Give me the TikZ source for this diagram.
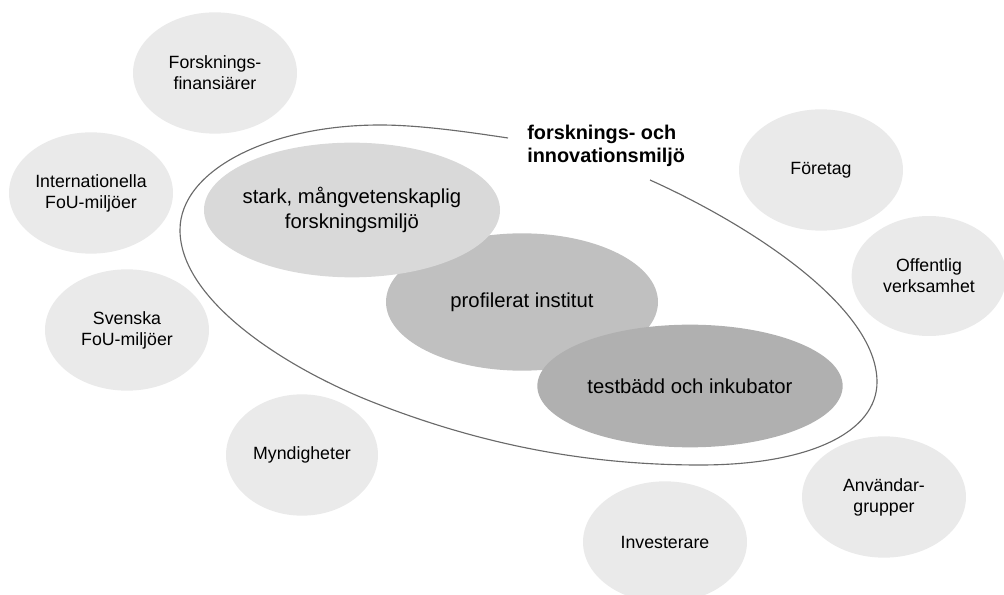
\documentclass[tikz,border=0pt]{standalone}
\usepackage{fontspec}
\setmainfont{Liberation Sans}
\usetikzlibrary{shapes.geometric}
\definecolor{outergray}{HTML}{EAEAEA}
\definecolor{starkgray}{HTML}{D9D9D9}
\definecolor{profilgray}{HTML}{C0C0C0}
\definecolor{testgray}{HTML}{B0B0B0}
\definecolor{rimgray}{HTML}{6A6A6A}
\begin{document}
\begin{tikzpicture}[x=0.75pt,y=-0.75pt,
		actor/.style={ellipse,fill=outergray,inner sep=0pt,minimum width=123pt,minimum height=91pt,align=center,font=\fontsize{13.3}{15.8}\selectfont},
		core/.style={ellipse,inner sep=0pt,align=center,font=\fontsize{15.2}{18.8}\selectfont}]
	\useasboundingbox (0,0) rectangle (1004,595);
	\node[actor] (finans) at (215,73) {Forsknings-\\finansiärer};
	\node[actor] (intfou) at (91,193) {Internationella\\FoU-miljöer};
	\node[actor] (svfou) at (127,330) {Svenska\\FoU-miljöer};
	\node[actor,minimum width=114pt] (myndig) at (302,455) {Myndigheter};
	\node[actor] (invest) at (665,542) {Investerare};
	\node[actor] (anvgrp) at (884,497) {Användar-\\grupper};
	\node[actor,minimum width=116pt,minimum height=90pt] (offent) at (929,276) {Offentlig\\verksamhet};
	\node[actor] (foretag) at (821,170) {Företag};
	\draw[rimgray,line width=0.85pt] (650,180) .. controls (750,225) and (877,307) .. (877,382)
		.. controls (877,432) and (810,465) .. (700,465)
		.. controls (590,465) and (485,446) .. (375,403)
		.. controls (285,368) and (180,300) .. (180,230)
		.. controls (180,170) and (270,125) .. (380,125)
		.. controls (420,125) and (468,132) .. (508,138);
	\node[core,fill=profilgray,minimum width=204pt,minimum height=103pt] (profil) at (522,302) {profilerat institut};
	\node[core,fill=starkgray,inner xsep=-6pt,minimum width=222pt,minimum height=101pt] (stark) at (352,210) {stark, mångvetenskaplig\\forskningsmiljö};
	\node[core,fill=testgray,minimum width=229pt,minimum height=92pt] (testbed) at (690,386) {testbädd och inkubator};
	\node[anchor=west,align=left,inner sep=0pt,font=\bfseries\fontsize{14.9}{17.5}\selectfont] (miljo) at (527,146) {forsknings- och\\innovationsmiljö};
\end{tikzpicture}
\end{document}
